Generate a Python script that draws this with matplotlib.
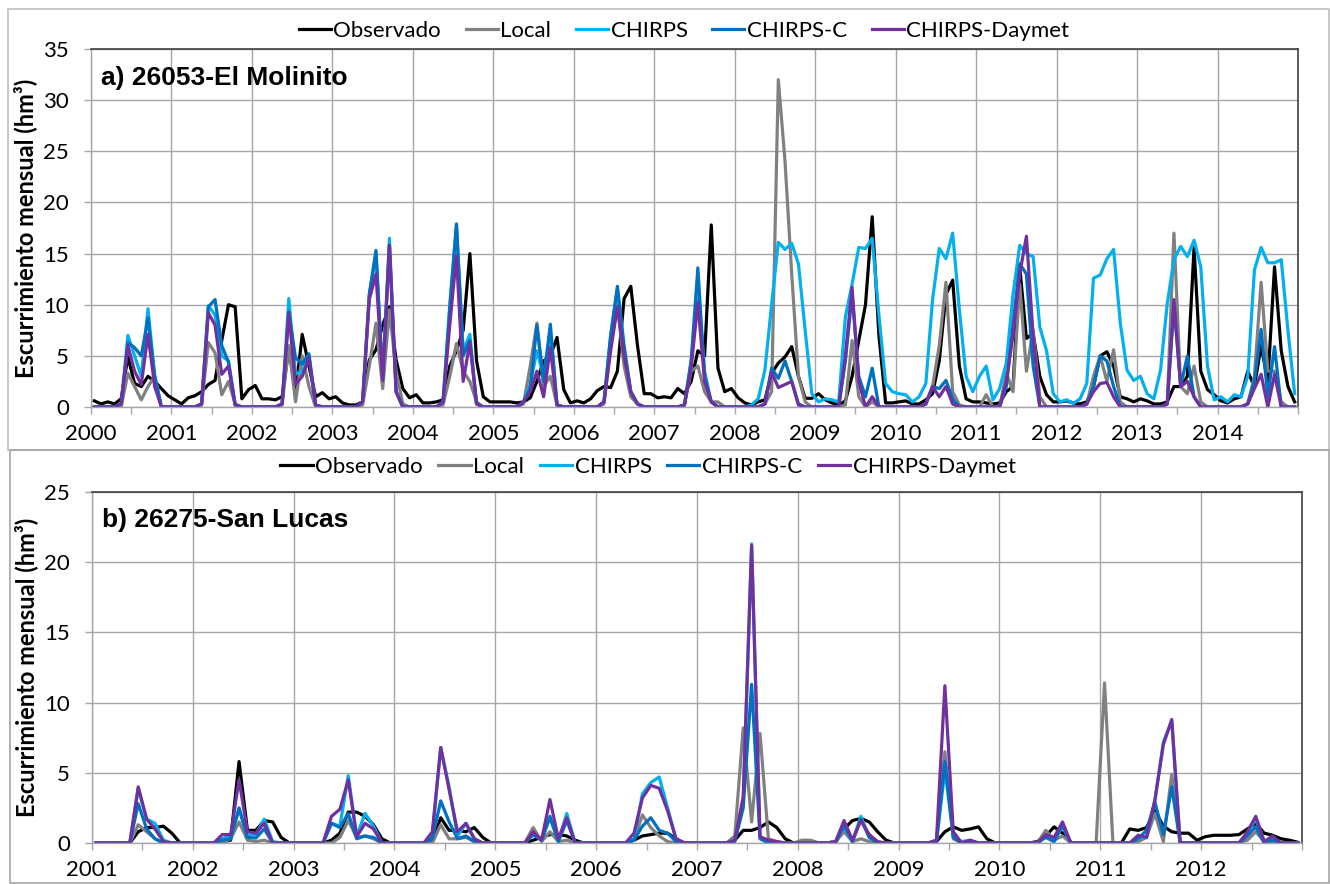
import matplotlib
matplotlib.use("Agg")
import matplotlib.pyplot as plt
from matplotlib.patches import Rectangle
import numpy as np

plt.rcParams["font.family"] = ["Lato", "DejaVu Sans"]

# ---------------- data: monthly runoff (hm3), one row per year ----------------
years_a = list(range(2000, 2015))
years_b = list(range(2001, 2013))
series_names = ["Observado", "Local", "CHIRPS", "CHIRPS-C", "CHIRPS-Daymet"]
series_colors = ["#000000", "#808080", "#00B0F0", "#0070C0", "#7030A0"]

# a) 26053-El Molinito, Jan 2000 - Dec 2014
obs_a = [
    0.6, 0.3, 0.5, 0.3, 0.8, 4.9, 2.3, 2.0, 3.0, 2.5, 1.8, 1.1,
    0.7, 0.3, 0.9, 1.1, 1.5, 2.2, 2.6, 6.5, 10.0, 9.8, 0.8, 1.7,
    2.1, 0.8, 0.8, 0.7, 1.0, 5.8, 1.3, 7.1, 4.0, 1.0, 1.4, 0.8,
    1.0, 0.4, 0.2, 0.2, 0.5, 4.6, 5.6, 8.0, 9.8, 4.6, 1.8, 0.9,
    1.2, 0.4, 0.4, 0.5, 0.7, 4.0, 5.5, 7.5, 15.0, 4.5, 1.0, 0.5,
    0.5, 0.5, 0.5, 0.4, 0.5, 0.9, 2.5, 4.5, 5.0, 6.8, 1.7, 0.4,
    0.6, 0.4, 0.8, 1.6, 2.0, 1.9, 3.5, 10.6, 11.8, 6.0, 1.3, 1.3,
    0.9, 1.0, 0.9, 1.8, 1.3, 2.5, 5.5, 5.0, 17.8, 3.8, 1.5, 1.8,
    0.9, 0.4, 0.2, 0.5, 0.7, 3.3, 4.3, 4.9, 5.9, 3.0, 0.85, 0.85,
    1.3, 0.7, 0.4, 0.2, 0.6, 3.0, 6.5, 10.0, 18.6, 7.0, 0.4, 0.4,
    0.5, 0.6, 0.3, 0.3, 0.7, 1.3, 4.5, 11.0, 12.4, 4.0, 0.8, 0.5,
    0.5, 0.4, 0.3, 0.4, 1.5, 2.0, 13.7, 6.7, 7.2, 3.0, 1.2, 0.5,
    0.5, 0.6, 0.4, 0.3, 0.5, 2.0, 5.0, 5.4, 4.0, 1.0, 0.8, 0.5,
    0.8, 0.6, 0.3, 0.3, 0.5, 2.0, 2.0, 3.0, 15.6, 3.5, 1.7, 1.2,
    0.6, 0.4, 0.8, 1.0, 3.5, 2.0, 6.0, 2.5, 13.7, 5.5, 2.0, 0.5,
]
local_a = [
    0, 0, 0, 0, 0, 3.3, 2.0, 0.7, 2.0, 3.0, 0, 0,
    0, 0, 0, 0, 0.2, 6.3, 5.3, 1.2, 2.5, 0.3, 0, 0,
    0, 0, 0, 0, 0.2, 6.0, 0.5, 5.0, 2.0, 0, 0, 0,
    0, 0, 0, 0, 0.2, 4.0, 8.2, 1.8, 9.5, 3.5, 0.3, 0,
    0, 0, 0, 0, 0.2, 3.0, 6.2, 3.5, 2.5, 0.5, 0, 0,
    0, 0, 0, 0, 0.3, 4.0, 8.2, 2.0, 3.0, 0.2, 0, 0,
    0, 0, 0, 0, 0.3, 6.0, 10.0, 4.0, 1.0, 0.3, 0, 0,
    0, 0, 0, 0, 0.2, 3.5, 4.0, 1.5, 0.5, 0.5, 0, 0,
    0, 0, 0, 0, 0.3, 1.5, 32.0, 24.0, 13.0, 3.0, 0.5, 0,
    0, 0, 0, 0, 0.2, 6.5, 1.0, 0, 0.5, 0, 0, 0,
    0, 0, 0, 0, 0.3, 2.0, 6.0, 12.2, 1.5, 0.2, 0, 0,
    0, 1.2, 0, 0, 3.3, 1.5, 12.0, 3.5, 7.5, 1.0, 0, 0,
    0, 0, 0, 0, 0.3, 3.0, 5.0, 2.5, 5.6, 0.5, 0, 0,
    0, 0, 0, 0, 0.3, 17.0, 2.0, 1.3, 4.0, 0.5, 0, 0,
    0, 0, 0, 0, 0.3, 3.0, 12.2, 3.5, 3.5, 0.5, 0, 0,
]
chirps_a = [
    0, 0, 0, 0, 0.3, 7.0, 5.0, 3.0, 9.6, 3.0, 0, 0,
    0, 0, 0, 0, 0.3, 9.9, 9.0, 5.0, 4.5, 0.2, 0, 0,
    0, 0, 0, 0, 0.3, 10.6, 3.2, 3.5, 5.0, 0.2, 0, 0,
    0, 0, 0, 0, 0.5, 11.0, 15.0, 2.7, 16.5, 1.5, 0, 0,
    0, 0, 0, 0, 0.5, 10.0, 17.8, 5.5, 7.1, 0.3, 0, 0,
    0, 0, 0, 0, 0.5, 2.2, 5.5, 3.0, 7.5, 0.2, 0, 0,
    0, 0, 0, 0, 0.5, 7.0, 11.5, 5.5, 1.5, 0.3, 0, 0,
    0, 0, 0, 0, 0.2, 4.5, 12.0, 3.5, 0.5, 0, 0, 0,
    0, 0, 0.2, 0.8, 3.6, 10.0, 16.1, 15.4, 16.0, 14.0, 7.5, 1.3,
    0.5, 0.8, 0.7, 0.5, 8.8, 12.0, 15.6, 15.5, 16.5, 9.0, 2.3, 1.5,
    1.3, 1.2, 0.5, 1.0, 2.3, 10.5, 15.5, 14.5, 17.0, 9.5, 3.0, 1.5,
    3.0, 4.0, 0.7, 1.8, 4.3, 11.0, 15.8, 15.0, 14.7, 7.8, 5.5, 1.3,
    0.5, 0.7, 0.35, 0.8, 2.3, 12.6, 12.9, 14.5, 15.4, 8.2, 3.6, 2.6,
    3.0, 1.3, 0.8, 3.6, 10.1, 14.4, 15.7, 14.7, 16.3, 13.7, 4.0, 0.7,
    1.0, 0.5, 1.2, 1.0, 3.0, 13.4, 15.6, 14.1, 14.1, 14.4, 7.5, 1.3,
]
chirpsc_a = [
    0, 0, 0, 0, 0.3, 6.3, 5.8, 5.0, 8.7, 3.0, 0, 0,
    0, 0, 0, 0, 0.3, 9.8, 10.5, 6.0, 4.4, 0.2, 0, 0,
    0, 0, 0, 0, 0.3, 9.3, 4.8, 4.2, 5.2, 0.2, 0, 0,
    0, 0, 0, 0, 0.5, 11.0, 15.3, 2.7, 15.8, 1.5, 0, 0,
    0, 0, 0, 0, 0.5, 9.5, 17.9, 5.0, 6.5, 0.3, 0, 0,
    0, 0, 0, 0, 0.5, 1.8, 8.0, 2.5, 8.1, 0.2, 0, 0,
    0, 0, 0, 0, 0.5, 7.0, 11.8, 6.0, 1.5, 0.3, 0, 0,
    0, 0, 0, 0, 0.2, 4.5, 13.6, 3.0, 0.5, 0, 0, 0,
    0, 0, 0, 0, 0.3, 3.8, 2.8, 4.5, 2.5, 0.3, 0, 0,
    0, 0, 0, 0, 4.5, 11.0, 3.0, 1.0, 3.8, 0, 0, 0,
    0, 0, 0, 0, 0.3, 2.0, 1.8, 2.6, 0.8, 0, 0, 0,
    0, 0, 0, 0, 2.0, 8.0, 14.0, 13.0, 4.0, 0, 0, 0,
    0, 0, 0, 0, 0.3, 2.0, 5.0, 4.5, 2.0, 0, 0, 0,
    0, 0, 0, 0, 0.3, 10.0, 2.0, 5.0, 1.0, 0, 0, 0,
    0, 0, 0, 0, 0.3, 2.5, 7.6, 1.0, 5.9, 0, 0, 0,
]
daymet_a = [
    0, 0, 0, 0, 0.3, 6.0, 3.5, 2.2, 7.1, 2.0, 0, 0,
    0, 0, 0, 0, 0.3, 9.2, 8.0, 3.2, 4.0, 0.2, 0, 0,
    0, 0, 0, 0, 0.3, 9.2, 2.2, 3.0, 4.8, 0.2, 0, 0,
    0, 0, 0, 0, 0.5, 10.5, 13.0, 2.6, 15.8, 1.5, 0, 0,
    0, 0, 0, 0, 0.5, 8.0, 14.8, 2.5, 6.3, 0.3, 0, 0,
    0, 0, 0, 0, 0.5, 1.5, 3.5, 1.0, 5.8, 0.2, 0, 0,
    0, 0, 0, 0, 0.5, 5.5, 9.8, 5.0, 1.5, 0.3, 0, 0,
    0, 0, 0, 0, 0.2, 3.8, 10.2, 2.5, 0.5, 0, 0, 0,
    0, 0, 0, 0, 0.3, 3.4, 1.9, 2.2, 2.5, 0.2, 0, 0,
    0, 0, 0, 0, 5.0, 11.7, 2.5, 0, 1.0, 0, 0, 0,
    0, 0, 0, 0, 0.3, 2.0, 1.0, 2.0, 0.3, 0, 0, 0,
    0, 0, 0, 0, 2.5, 7.0, 13.0, 16.7, 7.0, 0, 0, 0,
    0, 0, 0, 0, 0.3, 1.5, 2.3, 2.4, 1.0, 0, 0, 0,
    0, 0, 0, 0, 0.3, 10.5, 2.0, 2.5, 1.0, 0, 0, 0,
    0, 0, 0, 0, 0.3, 1.8, 3.2, 0, 3.2, 0, 0, 0,
]

# b) 26275-San Lucas, Jan 2001 - Dec 2012
obs_b = [
    0, 0, 0, 0, 0, 0.8, 1.1, 1.1, 1.2, 0.7, 0, 0,
    0, 0, 0, 0.1, 0.2, 5.8, 0.9, 0.9, 1.6, 1.5, 0.4, 0,
    0, 0, 0, 0, 0.2, 0.7, 2.2, 2.2, 1.9, 1.3, 0.3, 0,
    0, 0, 0, 0, 0.1, 1.8, 0.9, 0.9, 0.8, 1.1, 0.4, 0,
    0, 0, 0, 0, 0.2, 0.4, 0.6, 0.6, 0.5, 0.2, 0, 0,
    0, 0, 0, 0, 0.2, 0.5, 0.6, 0.7, 0.7, 0.3, 0, 0,
    0, 0, 0, 0, 0.2, 0.9, 0.9, 1.1, 1.5, 1.1, 0.3, 0,
    0, 0, 0, 0, 0.1, 1.0, 1.6, 1.75, 1.5, 0.8, 0.2, 0,
    0, 0, 0, 0, 0.1, 0.8, 1.15, 0.9, 1.0, 1.15, 0.3, 0,
    0, 0, 0, 0, 0.1, 0.5, 1.15, 0.7, 0, 0, 0, 0,
    0, 0, 0, 1.0, 0.9, 1.1, 2.3, 1.2, 0.8, 0.7, 0.7, 0.2,
    0.45, 0.55, 0.55, 0.55, 0.6, 1.0, 1.4, 0.7, 0.55, 0.3, 0.2, 0.05,
]
local_b = [
    0, 0, 0, 0, 0, 1.3, 0.8, 0.3, 0, 0, 0, 0,
    0, 0, 0, 0, 0.3, 1.5, 0.2, 0.1, 0.2, 0, 0, 0,
    0, 0, 0, 0, 0, 0.4, 1.6, 0.4, 0.5, 0.3, 0, 0,
    0, 0, 0, 0, 0, 1.3, 0.3, 0.3, 0.4, 0.1, 0, 0,
    0, 0, 0, 0, 1.1, 0.1, 0.8, 0.1, 0.2, 0, 0, 0,
    0, 0, 0, 0, 0.2, 2.0, 1.1, 0.5, 0.1, 0, 0, 0,
    0, 0, 0, 0, 0.5, 8.2, 1.5, 7.8, 0.3, 0.1, 0, 0,
    0.2, 0.2, 0, 0, 0.1, 0.8, 0.1, 0.3, 0.1, 0, 0, 0,
    0, 0, 0, 0, 0.2, 6.5, 0.3, 0, 0, 0, 0, 0,
    0, 0, 0, 0, 0, 0.9, 0.2, 0.5, 0, 0, 0, 0,
    11.4, 0, 0, 0, 0.1, 0.4, 2.1, 0.1, 4.9, 0, 0, 0,
    0, 0, 0, 0, 0, 0.2, 0.8, 0.1, 0, 0, 0, 0,
]
chirps_b = [
    0, 0, 0, 0, 0, 3.9, 1.7, 1.4, 0.2, 0, 0, 0,
    0, 0, 0, 0.3, 0.5, 2.4, 0.5, 0.6, 1.7, 0.1, 0, 0,
    0, 0, 0, 0, 1.4, 1.2, 4.8, 0.5, 2.1, 1.2, 0, 0,
    0, 0, 0, 0, 0.5, 6.8, 4.0, 0.5, 1.4, 0.3, 0, 0,
    0, 0, 0, 0, 0.6, 0.2, 1.8, 0.1, 2.1, 0, 0, 0,
    0, 0, 0, 0, 0.3, 3.5, 4.3, 4.7, 2.5, 0.3, 0, 0,
    0, 0, 0, 0, 0.2, 3.0, 21.3, 0.4, 0.1, 0, 0, 0,
    0, 0, 0, 0, 0.1, 1.2, 0.1, 1.9, 0.4, 0, 0, 0,
    0, 0, 0, 0, 0.1, 5.2, 0.5, 0.1, 0.2, 0, 0, 0,
    0, 0, 0, 0, 0, 0.5, 0.3, 1.2, 0, 0, 0, 0,
    0, 0, 0, 0, 0.3, 0.4, 3.0, 7.2, 8.7, 0, 0, 0,
    0, 0, 0, 0, 0, 0.7, 1.7, 0.1, 0.3, 0, 0, 0,
]
chirpsc_b = [
    0, 0, 0, 0, 0, 2.8, 1.0, 0.3, 0, 0, 0, 0,
    0, 0, 0, 0.2, 0.3, 2.5, 0.4, 0.35, 1.0, 0, 0, 0,
    0, 0, 0, 0, 1.4, 1.1, 2.1, 0.3, 0.5, 0.4, 0, 0,
    0, 0, 0, 0, 0.3, 3.0, 1.5, 0.3, 0.5, 0.1, 0, 0,
    0, 0, 0, 0, 0.6, 0.2, 1.9, 0.1, 1.6, 0, 0, 0,
    0, 0, 0, 0, 0.2, 1.2, 1.8, 0.9, 0.7, 0.1, 0, 0,
    0, 0, 0, 0, 0.1, 2.5, 11.3, 0.3, 0, 0, 0, 0,
    0, 0, 0, 0, 0, 1.3, 0.1, 1.7, 0.4, 0, 0, 0,
    0, 0, 0, 0, 0.1, 5.8, 0.4, 0, 0.1, 0, 0, 0,
    0, 0, 0, 0, 0, 0.4, 0.1, 1.2, 0, 0, 0, 0,
    0, 0, 0, 0, 0.3, 0.9, 2.9, 0.6, 4.0, 0, 0, 0,
    0, 0, 0, 0, 0, 0.5, 1.15, 0, 0.2, 0, 0, 0,
]
daymet_b = [
    0, 0, 0, 0, 0, 4.0, 1.7, 1.0, 0.1, 0, 0, 0,
    0, 0, 0, 0.6, 0.6, 4.5, 0.8, 0.7, 1.4, 0, 0, 0,
    0, 0, 0, 0, 1.9, 2.4, 4.5, 0.45, 1.4, 1.0, 0, 0,
    0, 0, 0, 0, 0.8, 6.8, 3.8, 0.8, 1.4, 0.3, 0, 0,
    0, 0, 0, 0, 0.8, 0.2, 3.1, 0.3, 1.8, 0, 0, 0,
    0, 0, 0, 0, 0.7, 3.2, 4.1, 3.9, 2.3, 0.3, 0, 0,
    0, 0, 0, 0, 0.2, 3.3, 21.2, 0.45, 0.2, 0.1, 0, 0,
    0, 0, 0, 0, 0.1, 1.6, 0.2, 1.6, 0.6, 0.1, 0, 0,
    0, 0, 0, 0, 0.2, 11.2, 0.8, 0, 0.2, 0, 0, 0,
    0, 0, 0, 0, 0, 0.6, 0.4, 1.5, 0, 0, 0, 0,
    0, 0, 0, 0, 0.55, 0.4, 3.1, 7.0, 8.8, 0, 0, 0,
    0, 0, 0, 0, 0, 0.8, 1.9, 0.1, 0.5, 0, 0, 0,
]

W, H = 1330, 884
fig = plt.figure(figsize=(W / 100, H / 100), dpi=100)


def fx(px):
    return px / W


def fy(py):
    return 1 - py / H


def draw_panel(rect, series, years, ymax, title, leg_x, leg_y, colspace):
    ax = fig.add_axes(rect)
    n = len(years) * 12
    x = np.arange(n) + 0.5
    lines = []
    for vals, name, col in zip(series, series_names, series_colors):
        (ln,) = ax.plot(x, vals, color=col, lw=2.3, label=name)
        lines.append(ln)

    ax.set_xlim(0, n)
    ax.set_ylim(0, ymax)
    ax.set_xticks(np.arange(0, n, 12))
    ax.set_xticklabels([str(y) for y in years])
    ax.set_xticks(np.arange(6, n + 1, 6), minor=True)
    ax.set_yticks(np.arange(0, ymax + 1, 5))
    ax.grid(True, which="major", color="#A6A6A6", lw=1.0)
    ax.set_axisbelow(True)
    ax.tick_params(axis="x", which="both", direction="out", length=5, width=1,
                   color="#A6A6A6", labelsize=16, pad=7)
    ax.tick_params(axis="y", direction="out", length=5, width=1,
                   color="#A6A6A6", labelsize=16, pad=11)
    for s in ["left", "bottom"]:
        ax.spines[s].set_color("#A6A6A6")
        ax.spines[s].set_linewidth(1.0)
    for s in ["top", "right"]:
        ax.spines[s].set_color("#404040")
        ax.spines[s].set_linewidth(1.2)

    ax.set_ylabel("Escurrimiento mensual (hm³)", fontsize=17, fontweight="bold",
                  labelpad=4)
    ax.text(0.008, 0.92, title, transform=ax.transAxes, fontsize=19,
            fontweight="bold", family="Liberation Sans", va="center", ha="left")

    fig.legend(handles=lines, loc="center", bbox_to_anchor=(fx(leg_x), fy(leg_y)),
               ncol=5, frameon=False, fontsize=16, handlelength=1.45,
               handletextpad=0.12, columnspacing=colspace, borderaxespad=0)
    return ax


ax_a = draw_panel([fx(91), fy(407), fx(1298 - 91), (407 - 49) / H],
                  [obs_a, local_a, chirps_a, chirpsc_a, daymet_a], years_a, 35,
                  "a) 26053-El Molinito", 684, 31, 1.1)
ax_b = draw_panel([fx(92), fy(843), fx(1302 - 92), (843 - 492) / H],
                  [obs_b, local_b, chirps_b, chirpsc_b, daymet_b], years_b, 25,
                  "b) 26275-San Lucas", 648, 467, 0.7)

# chart-area borders
fig.add_artist(Rectangle((fx(8), fy(450)), fx(1321), (450 - 9) / H,
                         transform=fig.transFigure, fill=False,
                         edgecolor="#BFBFBF", lw=1.2))
fig.add_artist(Rectangle((fx(10), fy(883)), fx(1319), (883 - 450) / H,
                         transform=fig.transFigure, fill=False,
                         edgecolor="#A6A6A6", lw=1.2))

fig.savefig("out.png", dpi=100)
